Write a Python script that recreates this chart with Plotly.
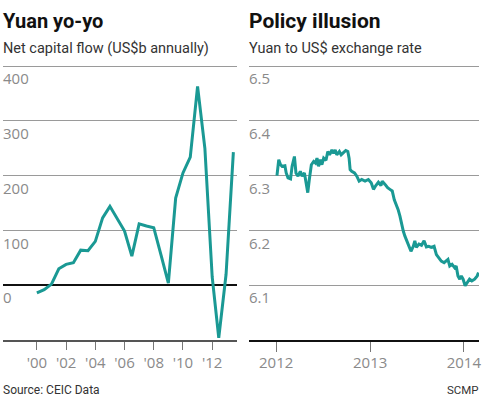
import plotly.graph_objects as go

# ---- Data: left panel (net capital flow, US$b annually) ----
flow_years = [2000.0, 2000.5, 2001.0, 2001.5, 2002.0, 2002.5, 2003.0, 2003.5, 2004.0, 2004.5,
              2005.0, 2005.5, 2006.0, 2006.5, 2007.0, 2007.5, 2008.0, 2008.5, 2009.0, 2009.5,
              2010.0, 2010.5, 2011.0, 2011.5, 2012.0, 2012.45, 2012.95, 2013.45]
flow_values = [-14, -8, 2, 30, 38, 41, 64, 63, 80, 123,
               144, 121, 99, 53, 112, 108, 105, 55, 4, 159,
               205, 234, 363, 250, 15, -96, 20, 243]
flow_tickvals = [2000, 2002, 2004, 2006, 2008, 2010, 2012]
flow_ticktext = ["'00", "'02", "'04", "'06", "'08", "'10", "'12"]
flow_ytickvals = [0, 100, 200, 300, 400]

# ---- Data: right panel (yuan to US$ exchange rate) ----
fx_dates = ["2012-01-04", "2012-01-11", "2012-01-18", "2012-01-24", "2012-02-04", "2012-02-09",
            "2012-02-16", "2012-02-26", "2012-03-03", "2012-03-12", "2012-03-18", "2012-03-26",
            "2012-04-04", "2012-04-11", "2012-04-20", "2012-04-26", "2012-05-03", "2012-05-09",
            "2012-05-17", "2012-05-26", "2012-06-02", "2012-06-08", "2012-06-14", "2012-06-21",
            "2012-06-27", "2012-07-04", "2012-07-13", "2012-07-20", "2012-07-27", "2012-08-05",
            "2012-08-12", "2012-08-18", "2012-08-24", "2012-09-03", "2012-09-10", "2012-09-19",
            "2012-09-28", "2012-10-06", "2012-10-11", "2012-10-15", "2012-10-21", "2012-11-01",
            "2012-11-10", "2012-11-19", "2012-11-29", "2012-12-12", "2012-12-25", "2013-01-05",
            "2013-01-14", "2013-01-23", "2013-02-02", "2013-02-12", "2013-02-17", "2013-02-28",
            "2013-03-10", "2013-03-19", "2013-03-28", "2013-04-05", "2013-04-14", "2013-04-20",
            "2013-04-27", "2013-05-03", "2013-05-10", "2013-05-16", "2013-05-23", "2013-05-29",
            "2013-06-09", "2013-06-18", "2013-06-24", "2013-06-30", "2013-07-10", "2013-07-20",
            "2013-07-30", "2013-08-08", "2013-08-17", "2013-08-27", "2013-09-07", "2013-09-16",
            "2013-09-25", "2013-10-05", "2013-10-16", "2013-10-25", "2013-10-31", "2013-11-07",
            "2013-11-16", "2013-11-26", "2013-12-02", "2013-12-09", "2013-12-16", "2013-12-22",
            "2013-12-29", "2014-01-06", "2014-01-14", "2014-01-23", "2014-02-01", "2014-02-12",
            "2014-02-22", "2014-02-27"]
fx_values = [6.300, 6.329, 6.320, 6.317, 6.318, 6.305,
             6.296, 6.294, 6.317, 6.335, 6.305, 6.299,
             6.308, 6.299, 6.305, 6.287, 6.269, 6.293,
             6.320, 6.326, 6.323, 6.332, 6.317, 6.329,
             6.320, 6.332, 6.328, 6.344, 6.338, 6.347,
             6.341, 6.347, 6.338, 6.344, 6.338, 6.342,
             6.346, 6.344, 6.332, 6.311, 6.308, 6.305,
             6.299, 6.290, 6.293, 6.290, 6.293, 6.287,
             6.275, 6.282, 6.288, 6.282, 6.290, 6.284,
             6.278, 6.275, 6.272, 6.256, 6.247, 6.238,
             6.226, 6.211, 6.199, 6.190, 6.181, 6.175,
             6.162, 6.171, 6.181, 6.169, 6.175, 6.173,
             6.181, 6.170, 6.171, 6.169, 6.171, 6.156,
             6.150, 6.144, 6.141, 6.144, 6.147, 6.135,
             6.138, 6.132, 6.135, 6.117, 6.111, 6.117,
             6.111, 6.099, 6.105, 6.111, 6.108, 6.111,
             6.117, 6.123]
fx_tickvals = ["2012-01-01", "2013-01-01", "2014-01-01"]
fx_ticktext = ["2012", "2013", "2014"]
fx_ytickvals = [6.1, 6.2, 6.3, 6.4, 6.5]

W, H = 486, 397
TEAL = "#1a9994"
GRID = "#9a9a9a"
TICKFONT = dict(family="Open Sans", size=15, color="#8a8a8a")

def px_x(p):
    return p / W

def px_y(p):
    return 1 - p / H

# top gridline at y=66px, bottom axis at y=340px (1px headroom keeps the top gridline)
ydom = [px_y(340), px_y(65)]

fig = go.Figure()
fig.add_trace(go.Scatter(x=flow_years, y=flow_values, mode="lines",
                         line=dict(color=TEAL, width=3), xaxis="x", yaxis="y",
                         hoverinfo="skip", showlegend=False))
fig.add_trace(go.Scatter(x=fx_dates, y=fx_values, mode="lines",
                         line=dict(color=TEAL, width=3), xaxis="x2", yaxis="y2",
                         hoverinfo="skip", showlegend=False))

common_y = dict(domain=ydom, showline=False, ticks="", gridcolor=GRID, gridwidth=1.2,
                ticklabelposition="inside", ticklabelshift=13, ticklabelstandoff=-3,
                tickfont=TICKFONT, fixedrange=True)

fig.update_layout(
    width=W, height=H,
    margin=dict(l=0, r=0, t=0, b=0),
    paper_bgcolor="white", plot_bgcolor="white",
    showlegend=False,
    xaxis=dict(domain=[px_x(3), px_x(238)], range=[1997.68, 2013.70],
               tickvals=flow_tickvals, ticktext=flow_ticktext,
               ticks="outside", ticklen=8, tickcolor="#777", tickwidth=1,
               showline=True, linecolor="#555", linewidth=1.5,
               showgrid=False, zeroline=False, anchor="y",
               tickfont=TICKFONT, ticklabelstandoff=0, fixedrange=True),
    xaxis3=dict(overlaying="x", range=[1997.68, 2013.70], tickvals=flow_tickvals,
                ticks="inside", ticklen=8, tickcolor="#777", tickwidth=1,
                showticklabels=False, showline=False, showgrid=False,
                zeroline=False, anchor="y", fixedrange=True),
    yaxis=dict(range=[-100, 402], tickvals=flow_ytickvals, anchor="x",
               zeroline=True, zerolinecolor="#111", zerolinewidth=2, **common_y),
    xaxis2=dict(domain=[px_x(250), px_x(481)], type="date",
                range=["2011-09-17", "2014-03-01"],
                tickvals=fx_tickvals, ticktext=fx_ticktext,
                ticks="outside", ticklen=10, tickcolor="#777", tickwidth=1,
                showline=True, linecolor="#111", linewidth=2,
                showgrid=False, zeroline=False, anchor="y2",
                tickfont=TICKFONT, ticklabelstandoff=-2, fixedrange=True),
    xaxis4=dict(overlaying="x2", type="date", range=["2011-09-17", "2014-03-01"],
                tickvals=fx_tickvals, ticks="inside", ticklen=10, tickcolor="#777",
                tickwidth=1, showticklabels=False, showline=False, showgrid=False,
                zeroline=False, anchor="y2", fixedrange=True),
    yaxis2=dict(range=[6.0, 6.502], tickvals=fx_ytickvals, tickformat=".1f",
                anchor="x2", zeroline=False, **common_y),
)

ann = []
def text(x, y, s, size, color, family="Open Sans", anchor="left", bold=False):
    ann.append(dict(x=px_x(x), y=px_y(y), xref="paper", yref="paper",
                    xanchor=anchor, yanchor="middle", showarrow=False,
                    text=("<b>%s</b>" % s) if bold else s,
                    font=dict(family=family, size=size, color=color)))

text(1, 21, "Yuan yo-yo", 20, "#111", family="Roboto", bold=True)
text(248, 21, "Policy illusion", 21, "#111", family="Roboto", bold=True)
text(1, 48.5, "Net capital flow (US$b annually)", 14.5, "#333", family="Roboto")
text(248, 48.5, "Yuan to US$ exchange rate", 14.5, "#333", family="Roboto")
text(1, 390, "Source: CEIC Data", 12, "#333", family="Roboto")
text(483, 390, "SCMP", 11.5, "#333", family="Roboto", anchor="right")

fig.update_layout(annotations=ann)

fig.write_html("out.html", config={"displayModeBar": False, "staticPlot": True},
               post_script="document.body.style.margin='0';document.body.style.padding='0';")
